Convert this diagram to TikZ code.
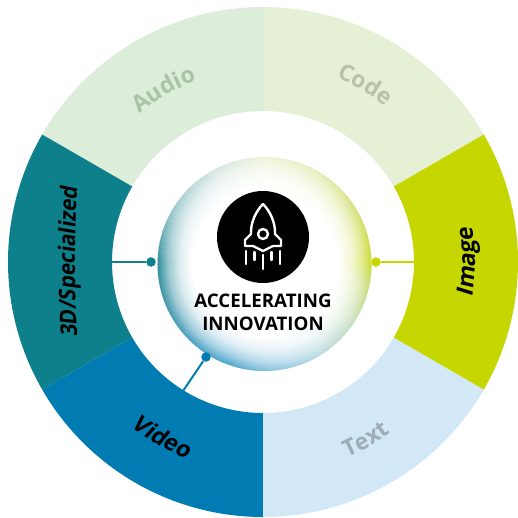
\documentclass[tikz,border=0pt]{standalone}
\usepackage{fontspec}
\setmainfont{Open Sans}
\newfontfamily\lblfont[BoldFeatures={FakeSlant=0.15}]{Open Sans}
\newfontfamily\lblcond[BoldFeatures={FakeSlant=0.15,FakeStretch=0.9}]{Open Sans}
\usetikzlibrary{decorations.text}
\definecolor{cAudio}{HTML}{DCEED9}
\definecolor{cCode}{HTML}{E6F0D5}
\definecolor{cImage}{HTML}{C5D600}
\definecolor{cText}{HTML}{D2E8F6}
\definecolor{cVideo}{HTML}{007CB2}
\definecolor{cThreeD}{HTML}{0E808C}
\definecolor{tAudio}{HTML}{ABC2A8}
\definecolor{tCode}{HTML}{B7C3A8}
\definecolor{tText}{HTML}{9DADB8}
\definecolor{rimA}{HTML}{C9D92A}
\definecolor{rimB}{HTML}{D5E07A}
\definecolor{rimC}{HTML}{E6EEBB}
\definecolor{rimD}{HTML}{F0F4DC}
\definecolor{rimE}{HTML}{D5E6E2}
\definecolor{rimF}{HTML}{9CC9CE}
\definecolor{rimG}{HTML}{2F8F9A}
\definecolor{rimH}{HTML}{3F96A8}
\definecolor{rimI}{HTML}{4A9FBF}
\definecolor{rimJ}{HTML}{4AA3CC}
\definecolor{rimK}{HTML}{8CC3DE}
\definecolor{rimL}{HTML}{B5D9E4}
\definecolor{rimM}{HTML}{C5DEB5}
\definecolor{rimN}{HTML}{C9DC70}
\newcommand{\sect}[3]{\fill[#3] (#1:255) arc (#1:#2:255) -- (#2:151) arc (#2:#1:151) -- cycle;}
\newcommand{\arclabel}[5]{\path[decorate,decoration={text along path,text align=center,
  text={|\lblfont\bfseries\fontsize{23}{23}\selectfont\color{#5}|#4}}] (#1:#3) arc (#1:#2:#3);}
\newcommand{\paleLabel}[5]{\path[decorate,decoration={text along path,text align=center,
  text={|\bfseries\fontsize{23}{23}\selectfont\color{#5}|#4}}] (#1:#3) arc (#1:#2:#3);}
\tikzset{
  x=1pt,y=1pt,
  rocketline/.style={draw=white,line width=2.4pt,line join=round,line cap=round},
  condot/.style={circle,inner sep=0pt,minimum size=9.5pt},
  conline/.style={line width=2pt},
  hub/.style={font=\bfseries\fontsize{18.7}{23}\selectfont,align=center,text=black,inner sep=0pt}
}
\begin{document}
\begin{tikzpicture}
\useasboundingbox (-263,-255) rectangle (255,262);
\sect{30}{90}{cCode}
\sect{90}{150}{cAudio}
\sect{150}{210}{cThreeD}
\sect{210}{270}{cVideo}
\sect{270}{330}{cText}
\sect{-30}{30}{cImage}
% glowing hub
\foreach \angA/\angB/\colA/\colB [count=\seg] in {0/30/rimA/rimB,30/60/rimB/rimC,60/90/rimC/rimD,90/120/rimD/rimE,120/150/rimE/rimF,150/180/rimF/rimG,180/200/rimG/rimH,200/225/rimH/rimI,225/250/rimI/rimJ,250/275/rimJ/rimK,275/300/rimK/rimL,300/330/rimL/rimM,330/350/rimM/rimN,350/360/rimN/rimA}{
  \foreach \stp in {0,...,9}{
    \pgfmathsetmacro{\wedA}{\angA+(\angB-\angA)*\stp/10}
    \pgfmathsetmacro{\wedB}{\angA+(\angB-\angA)*(\stp+1)/10+0.5}
    \pgfmathsetmacro{\wedM}{(\wedA+\wedB)/2}
    \pgfmathsetmacro{\prc}{100-100*(\stp+0.5)/10}
    \colorlet{curwedge}{\colA!\prc!\colB}
    \pgfdeclareradialshading{rimfx\seg x\stp}{\pgfpoint{0bp}{0bp}}{%
      color(0bp)=(white);color(17bp)=(white);color(20bp)=(curwedge!18!white);color(22.5bp)=(curwedge!50!white);color(25bp)=(curwedge);color(50bp)=(curwedge)}
    \begin{scope}[shift={(1.5,-2)}]
      \clip (0,0) -- (\wedA:125) -- (\wedM:135) -- (\wedB:125) -- cycle;
      \shade[shading=rimfx\seg x\stp] (0,0) circle (107);
    \end{scope}
  }
}
% connectors
\coordinate (threeDend) at (-151,0);
\coordinate (imageEnd) at (152,0);
\coordinate (videoEnd) at (-80,-129);
\node[condot,fill=cThreeD] (threeDdot) at (-112,0) {};
\node[condot,fill=cImage] (imageDot) at (113,0) {};
\node[condot,fill=cVideo] (videoDot) at (-57,-95) {};
\draw[conline,cThreeD] (threeDend) -- (threeDdot);
\draw[conline,cImage] (imageEnd) -- (imageDot);
\draw[conline,cVideo] (videoEnd) -- (videoDot);
% icon
\node[circle,fill=black,inner sep=0pt,minimum size=92pt] (badge) at (0,25) {};
\begin{scope}[shift={(badge.center)}]
  \draw[rocketline] (0,33) .. controls (7,26) and (12,15) .. (12,5)
     -- (12,3) -- (18,-3) -- (18,-9) -- (10,-9) -- (0,-14) -- (-10,-9) -- (-18,-9) -- (-18,-3) -- (-12,3) -- (-12,5)
     .. controls (-12,15) and (-7,26) .. (0,33) -- cycle;
  \draw[rocketline] (0,3) circle (5);
  \foreach \xa/\ya/\yb in {-17/-14/-27,-8.5/-15/-23,0/-18/-32,8.5/-15/-23,17/-14/-27}{
    \draw[rocketline] (\xa,\ya) -- (\xa,\yb);
  }
\end{scope}
\node[hub] (hubtext) at (0,-50) {ACCELERATING\\INNOVATION};
% labels
\arclabel{-30}{30}{212}{Image}{black}
\path[decorate,decoration={text along path,text align=center,
  text={|\lblcond\bfseries\fontsize{23}{23}\selectfont\color{black}|3D/Specialized}}]
  (-185,-85) .. controls (-189,-30) and (-189,30) .. (-185,85);
\paleLabel{150}{90}{193}{Audio}{tAudio}
\paleLabel{90}{30}{198}{Code}{tCode}
\arclabel{210}{270}{211}{Video}{black}
\paleLabel{270}{330}{213}{Text}{tText}
\end{tikzpicture}
\end{document}
